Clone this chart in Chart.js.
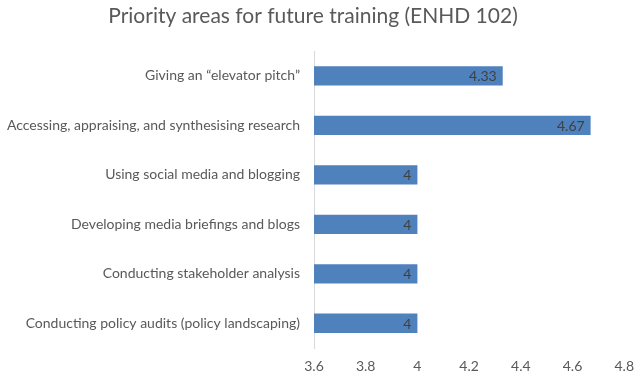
<!DOCTYPE html>
<html>
<head>
<meta charset="utf-8">
<script src="https://cdn.jsdelivr.net/npm/chart.js@4"></script>
<style>
  html, body { margin: 0; padding: 0; background: #fff; }
  #wrap { width: 644px; height: 376px; }
</style>
</head>
<body>
<div id="wrap"><canvas id="chart"></canvas></div>
<script>
// chart data
const categories = [
    'Giving an \u201celevator pitch\u201d',
    'Accessing, appraising, and synthesising research',
    'Using social media and blogging',
    'Developing media briefings and blogs',
    'Conducting stakeholder analysis',
    'Conducting policy audits (policy landscaping)'
];
const scores = [4.33, 4.67, 4, 4, 4, 4];
const scoreLabels = ['4.33', '4.67', '4', '4', '4', '4'];
const xTicks = [3.6, 3.8, 4, 4.2, 4.4, 4.6, 4.8];

const FONT = 'Lato, "Open Sans", sans-serif';

// value labels drawn at the inner end of each bar
const barLabels = {
    id: 'barLabels',
    afterDatasetsDraw(chart) {
        const ctx = chart.ctx;
        const meta = chart.getDatasetMeta(0);
        ctx.save();
        ctx.font = '14px ' + FONT;
        ctx.fillStyle = '#404040';
        ctx.textAlign = 'right';
        ctx.textBaseline = 'middle';
        meta.data.forEach((bar, i) => {
            ctx.fillText(scoreLabels[i], bar.x - 6, bar.y + 1);
        });
        ctx.restore();
    }
};

new Chart(document.getElementById('chart'), {
    type: 'bar',
    data: {
        labels: categories,
        datasets: [{
            data: scores,
            backgroundColor: '#4f81bd',
            borderWidth: 0,
            categoryPercentage: 1,
            barPercentage: 0.39
        }]
    },
    options: {
        indexAxis: 'y',
        responsive: true,
        maintainAspectRatio: false,
        animation: false,
        layout: { padding: { left: 0, right: 18, top: 2, bottom: 0 } },
        plugins: {
            legend: { display: false },
            tooltip: { enabled: false },
            title: {
                display: true,
                text: 'Priority areas for future training (ENHD 102)',
                color: '#595959',
                font: { family: FONT, size: 21, weight: 'normal' },
                padding: { top: 2, bottom: 22 }
            }
        },
        scales: {
            x: {
                min: 3.6,
                max: 4.8,
                afterBuildTicks: s => { s.ticks = xTicks.map(v => ({ value: v })); },
                afterFit: s => { s.height = 28; },
                grid: { display: false, drawTicks: false },
                border: { display: false },
                ticks: {
                    color: '#595959',
                    font: { family: FONT, size: 14 },
                    padding: 10,
                    maxRotation: 0,
                    callback: v => String(Math.round(v * 10) / 10)
                }
            },
            y: {
                afterFit: s => { s.width = 314; },
                grid: { display: false, drawTicks: false },
                border: { display: true, color: '#d9d9d9', width: 1 },
                ticks: {
                    color: '#595959',
                    font: { family: FONT, size: 14 },
                    padding: 14
                }
            }
        }
    },
    plugins: [barLabels]
});
</script>
</body>
</html>
